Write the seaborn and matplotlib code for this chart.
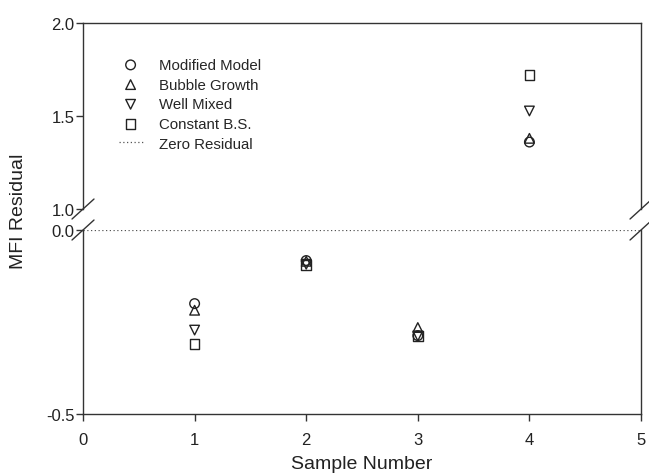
import pandas as pd
import matplotlib.pyplot as plt
import seaborn as sns

# Values
samples = [1, 2, 3, 4]
modified_model = [-0.20, -0.083, -0.287, 1.36]
bubble_growth = [-0.218, -0.085, -0.265, 1.38]
well_mixed = [-0.272, -0.093, -0.288, 1.527]
constant_bs = [-0.31, -0.095, -0.288, 1.72]

series_names = ["Modified Model", "Bubble Growth", "Well Mixed", "Constant B.S."]
series_markers = ["o", "^", "v", "s"]

df = pd.DataFrame({
    "Sample": samples * 4,
    "Residual": modified_model + bubble_growth + well_mixed + constant_bs,
    "Model": [n for n in series_names for _ in samples],
})

sns.set_style("ticks")
plt.rcParams["font.family"] = ["Liberation Sans", "DejaVu Sans"]

fig = plt.figure(figsize=(6.49, 4.77), dpi=100)
ax_top = fig.add_axes([0.1279, 0.5597, 0.8598, 0.3900])
ax_bot = fig.add_axes([0.1279, 0.1300, 0.8598, 0.3857])

edge = "#333333"
for name, mk in zip(series_names, series_markers):
    sub = df[df["Model"] == name]
    for ax in (ax_top, ax_bot):
        sns.scatterplot(data=sub, x="Sample", y="Residual", ax=ax, marker=mk,
                        color="black", facecolor="none", edgecolor="#222222",
                        s=48, linewidth=1.0, label=name, legend=False)

zero_line = ax_bot.axhline(0, color="#555555", linestyle=(0, (1, 2)), linewidth=0.9,
                           label="Zero Residual")

ax_top.set_ylim(1.0, 2.0)
ax_bot.set_ylim(-0.5, 0.0)
for ax in (ax_top, ax_bot):
    ax.set_xlim(0, 5)
    ax.set_xlabel("")
    ax.set_ylabel("")
    for sp in ax.spines.values():
        sp.set_color(edge)
        sp.set_linewidth(1.0)
    ax.tick_params(direction="out", length=5, width=1, color=edge,
                   labelsize=12, pad=1, labelcolor="#222222")

ax_top.set_yticks([1.0, 1.5, 2.0])
ax_top.set_yticklabels(["1.0", "1.5", "2.0"])
ax_top.spines["bottom"].set_visible(False)
ax_top.tick_params(axis="x", bottom=False, labelbottom=False)

ax_bot.set_yticks([-0.5, 0.0])
ax_bot.set_yticklabels(["-0.5", "0.0"])
ax_bot.set_xticks([0, 1, 2, 3, 4, 5])
ax_bot.spines["top"].set_visible(False)
ax_bot.tick_params(axis="x", pad=8)

# break marks
kw = dict(color=edge, linewidth=1.0, clip_on=False)
dx = 0.0197
for ax, h in ((ax_top, 186), (ax_bot, 184)):
    dy = 10 / h
    yb = 0 if ax is ax_top else 1
    ax.plot([-dx, dx], [yb - dy, yb + dy], transform=ax.transAxes, **kw)
    ax.plot([1 - dx, 1 + dx], [yb - dy, yb + dy], transform=ax.transAxes, **kw)

# legend
handles, labels = ax_bot.get_legend_handles_labels()
ax_top.legend(handles, labels, loc="upper left", bbox_to_anchor=(0.053, 0.845),
              frameon=False, fontsize=10.8, handlelength=1.6, handletextpad=1.1,
              labelspacing=0.38, borderaxespad=0)

ax_bot.set_xlabel("Sample Number", fontsize=14, labelpad=6, color="#222222")
fig.text(0.028, 0.557, "MFI Residual", rotation=90, fontsize=14,
         ha="center", va="center", color="#222222")

fig.savefig("out.png", dpi=100)
